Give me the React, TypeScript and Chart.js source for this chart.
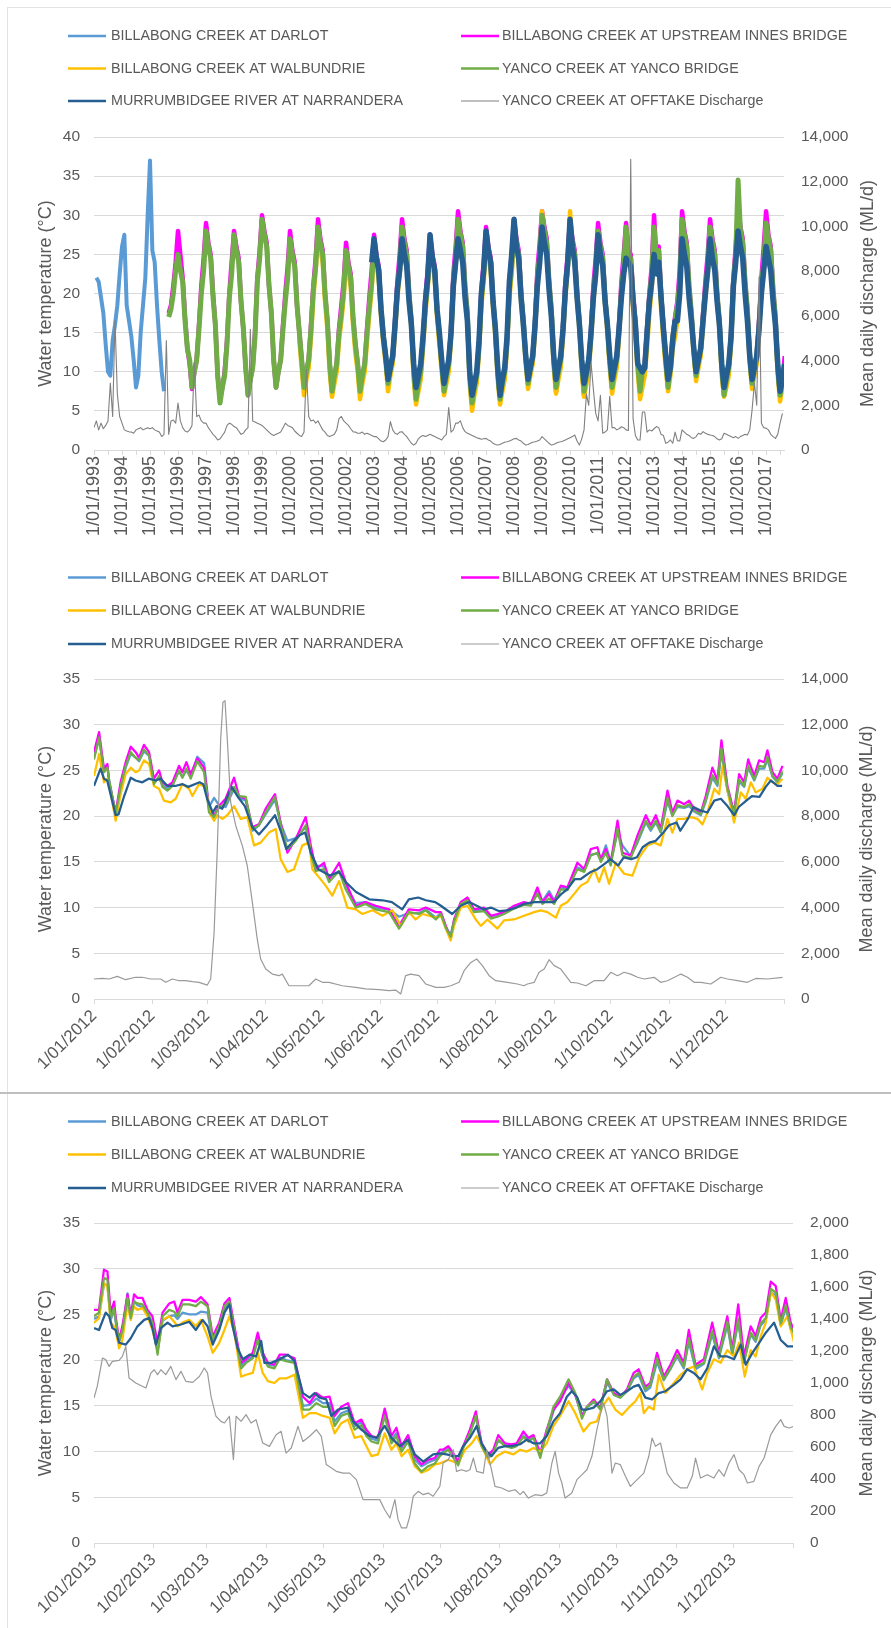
import React, { useEffect, useRef } from "react";
import { Chart, registerables } from "chart.js";
Chart.register(...registerables);

const FONT = "'Liberation Sans', Arial, Helvetica, sans-serif";
const TEXT = "#595959";
const GRID = "#d9d9d9";

// ---------------- legend / series names ----------------
const seriesNames = [
  "BILLABONG CREEK AT DARLOT",
  "BILLABONG CREEK AT UPSTREAM INNES BRIDGE",
  "BILLABONG CREEK AT WALBUNDRIE",
  "YANCO CREEK AT YANCO BRIDGE",
  "MURRUMBIDGEE RIVER AT NARRANDERA",
  "YANCO CREEK AT OFFTAKE Discharge",
];
const leftTitle = "Water temperature (°C)";
const rightTitle = "Mean daily discharge (ML/d)";

// ---------------- chart 1: 1993-2017, monthly readings (month index from Jan 1993) ----------------
const topFirstYear = 1993;
const topLastYear = 2017;
const darlotTopStart = 1; // Feb 1993
const darlotTop = [22, 21.5, 19.5, 17.5, 13.5, 10, 9.5, 14, 16, 18.5, 22.5,
  26, 27.5, 18.5, 16.5, 14.5, 11.5, 8, 9.5, 15, 18.5, 22, 30,
  37, 25.5, 24, 18.5, 14, 10, 7.5];
const innesTopStart = 32; // Sep 1995
const innesTop = [17.5, 18.5, 21, 24,
  28, 25, 22, 17, 13, 11, 7.8, 10, 11.5, 16, 21, 24.5,
  29, 26.5, 25, 20, 16, 9.5, 6.5, 8, 10, 14, 20, 24,
  28, 26, 24.5, 19, 15.5, 10.5, 7, 9, 10.5, 15, 22, 25.5,
  30, 28, 26.5, 21, 17.5, 11.5, 8, 10, 11.5, 16, 20, 23.5,
  28, 25.5, 24, 18.5, 15, 11.5, 7.8, 10, 11.5, 16, 21, 24.5,
  29.5, 27, 25.5, 20, 16.5, 11, 7.5, 9.5, 11, 15.5, 18.5, 21.5,
  26.5, 24, 22.5, 17, 13.5, 11, 7.5, 9.5, 11, 15.5, 19.5, 23,
  27.5, 25, 23.5, 18, 14.5, 12, 8.5, 10.5, 12, 16.5, 21.5, 25,
  29.5, 27, 25.5, 20, 16.5, 10, 6.5, 8.5, 10, 14.5, 19.5, 23,
  27.5, 25, 23.5, 18, 14.5, 11, 7.5, 9.5, 11, 15.5, 22.5, 26,
  30.5, 28, 26.5, 21, 17.5, 9.5, 6, 8, 9.5, 14, 20.5, 24,
  28.5, 26, 24.5, 19, 15.5, 10, 6.5, 8.5, 10, 14.5, 21.5, 25,
  29.5, 27, 25.5, 20, 16.5, 12, 8.5, 10.5, 12, 16.5, 23, 26.5,
  30.5, 28.5, 27, 21.5, 18, 11.5, 7.5, 9.5, 11.5, 16, 21.5, 25,
  29.5, 27, 25.5, 20, 16.5, 11, 7, 9.5, 11, 15.5, 21, 24.5,
  29, 26.5, 25, 19.5, 16, 11.5, 8, 10, 11.5, 16, 21.5, 25,
  29, 25.5, 25, 20, 16.5, 11, 7.5, 10, 11, 15.5, 20, 23.5,
  30, 24.5, 26, 20, 16, 12, 8, 10.5, 14.5, 17, 19, 23,
  30.5, 28, 26.5, 21, 17.5, 13, 9.5, 11.5, 13, 17.5, 21.5, 25,
  29.5, 27, 25.5, 20, 16.5, 10.5, 7, 9, 10.5, 15, 22, 26,
  31, 28.5, 27, 21.5, 18, 12, 8.5, 10.5, 12, 16.5, 22, 26,
  30.5, 27.5, 26, 20.5, 17, 10.5, 6.8, 9, 12];
const yancoTopStart = 32; // Sep 1995
const yancoTop = [17, 18, 20, 23,
  25, 23, 21.5, 16.5, 13, 11.5, 8, 10, 11.5, 15.5, 20, 23,
  28, 26, 24.5, 19.5, 16, 9.5, 6, 8, 9.5, 13.5, 19.5, 22.5,
  27.5, 25.5, 24, 19, 15.5, 10.5, 7, 9, 10.5, 14.5, 21.5, 24.5,
  29.5, 27.5, 26, 21, 17.5, 11.5, 8, 10, 11.5, 15.5, 19, 22,
  27, 25, 23.5, 18.5, 15, 11.5, 8, 10, 11.5, 15.5, 20.5, 23.5,
  28.5, 26.5, 25, 20, 16.5, 11, 7.5, 9.5, 11, 15, 17.5, 20.5,
  25.5, 23.5, 22, 17, 13.5, 11, 7.5, 9.5, 11, 15, 18.5, 21.5,
  26.5, 24.5, 23, 18, 14.5, 12, 8.5, 10.5, 12, 16, 20.5, 23.5,
  28.5, 26.5, 25, 20, 16.5, 10, 6.5, 8.5, 10, 14, 18.5, 21.5,
  26.5, 24.5, 23, 18, 14.5, 11, 7.5, 9.5, 11, 15, 21.5, 24.5,
  29.5, 27.5, 26, 21, 17.5, 9.5, 6, 8, 9.5, 13.5, 19.5, 22.5,
  27.5, 25.5, 24, 19, 15.5, 10, 6.5, 8.5, 10, 14, 20.5, 23.5,
  28.5, 26.5, 25, 20, 16.5, 12, 8.5, 10.5, 12, 16, 22, 25,
  30, 28, 26.5, 21.5, 18, 11.5, 8, 10, 11.5, 15.5, 20.5, 23.5,
  28.5, 26.5, 25, 20, 16.5, 11, 7.5, 9.5, 11, 15, 20, 23,
  28, 26, 24.5, 19.5, 16, 11.5, 8, 10, 11.5, 15.5, 20.5, 23.5,
  28.5, 25, 24.5, 19.5, 16, 11, 7.5, 10, 10.5, 15, 19.5, 22.5,
  28.5, 24, 25.5, 19.5, 15.5, 11.5, 8, 10.5, 14.5, 16.5, 18.5, 21.5,
  29.5, 27.5, 26, 21, 17.5, 13, 9.5, 11.5, 13, 17, 20.5, 23.5,
  28.5, 26.5, 25, 20, 16.5, 10.5, 7, 9, 10.5, 14.5, 21.5, 25,
  34.5, 28, 26.5, 21.5, 18, 12, 8.5, 10.5, 12, 16, 21, 24,
  29, 27, 25.5, 20.5, 17, 10.5, 7, 9, 11];
const walbTopStart = 88; // May 2000
const walbTop = [14, 10.5, 7, 9, 10.5, 14.5, 19.5, 23,
  27.5, 25.5, 24, 19, 15.5, 10, 6.8, 8.5, 10, 14, 16.5, 19.5,
  24.5, 22.5, 21, 16, 12.5, 10, 6.5, 8.5, 10, 14, 17.5, 20.5,
  25.5, 23.5, 22, 17, 13.5, 11, 7.5, 9.5, 11, 15, 19.5, 22.5,
  27.5, 25.5, 24, 19, 15.5, 9, 5.8, 7.5, 9, 13, 17.5, 20.5,
  25.5, 23.5, 22, 17, 13.5, 10, 7, 8.5, 10, 14, 20.5, 23.5,
  28.5, 26.5, 25, 20, 16.5, 8.5, 5, 7, 8.5, 12.5, 18.5, 21.5,
  26.5, 24.5, 23, 18, 14.5, 9, 5.8, 7.5, 9, 13, 19.5, 22.5,
  27.5, 25.5, 24, 19, 15.5, 11, 7.8, 9.5, 11, 15, 21, 24.5,
  30.5, 27, 25.5, 20.5, 17, 10.5, 7.2, 9, 10.5, 14.5, 19.5, 23,
  30.5, 25.5, 24, 19, 15.5, 10, 6.8, 8.5, 10, 14, 19, 22,
  27, 25, 23.5, 18.5, 15, 10.5, 7.2, 9, 10.5, 14.5, 19.5, 22.5,
  26.5, 24, 23.5, 18, 14.5, 10, 6.5, 8, 9.5, 13, 17.5, 20.5,
  28, 23.5, 24, 18, 14, 10.5, 7.5, 9.5, 13, 14.5, 16.5, 20,
  28.5, 26.5, 25, 20, 16.5, 12, 8.8, 10.5, 12, 16, 19.5, 22.5,
  27.5, 25.5, 24, 19, 15.5, 9.5, 6.8, 8, 9.5, 13.5, 20.5, 24,
  29.5, 27, 25.5, 20.5, 17, 11, 7.8, 9.5, 11, 15, 20, 23,
  28, 26, 24.5, 19.5, 16, 9.5, 6.2, 8, 10.5];
const murrTopStart = 119; // Dec 2002
const murrTop = [24,
  27, 24.5, 23, 18, 14.5, 12, 9, 10.5, 12, 16, 20.5, 23,
  27, 25, 23.5, 19, 16, 11, 8, 9.5, 11, 14.5, 19, 22,
  27.5, 24.5, 23, 18, 15, 11.5, 8.5, 10, 11.5, 15, 21, 24,
  27, 25.5, 24, 19.5, 16.5, 10, 7, 8.5, 10, 14, 20, 23,
  28, 25.5, 24, 19, 15.5, 10.5, 7, 9, 10.5, 14.5, 21.5, 25,
  29.5, 26, 24.5, 19.5, 16, 12, 9, 10.5, 12, 16, 21, 24,
  28.5, 26.5, 25, 20.5, 17, 12, 9, 10.5, 12, 15.5, 20.5, 24,
  29.5, 26, 24, 19.5, 16, 11.5, 8.5, 10, 11.5, 15, 19.5, 22.5,
  27.5, 25, 23.5, 19, 16, 12, 9, 10.5, 12, 15.5, 19.5, 22.5,
  24.5, 24, 23.5, 19, 16, 11, 10.5, 10, 10.5, 15, 19, 21.5,
  25, 22.5, 24, 19.5, 15.5, 12, 9, 10.5, 14, 16.5, 16.5, 20,
  27, 25, 23.5, 19.5, 16.5, 13, 10, 11.5, 13, 16.5, 20, 23,
  27, 24.5, 23, 19, 16, 11, 8, 9.5, 11, 14.5, 21, 24,
  28, 26, 24.5, 20, 16.5, 12, 9, 10.5, 12, 15.5, 20, 23,
  26, 24.5, 23, 19, 16, 11, 7.5, 9, 11];
const flowTopStart = 0; // Jan 1993
const flowTop = [1000, 1300, 900, 1200, 950, 1100, 1300, 3000, 1500, 5800, 2500, 1500,
  1200, 900, 850, 820, 800, 750, 900, 950, 1000, 900, 950, 1000,
  950, 1000, 900, 850, 800, 600, 700, 4900, 700, 1300, 1340, 1200,
  2100, 1300, 1000, 850, 800, 900, 1100, 3900, 1500, 1560, 1300, 1200,
  1200, 1000, 850, 700, 600, 450, 500, 650, 800, 1100, 1200, 1150,
  1050, 1000, 850, 700, 750, 900, 1000, 5400, 1300, 1250, 1200, 1150,
  1100, 1000, 900, 800, 700, 650, 700, 750, 800, 1000, 1200, 1100,
  1050, 1000, 850, 750, 650, 600, 800, 3600, 1500, 1300, 1340, 1200,
  1300, 1100, 900, 800, 650, 600, 650, 700, 900, 1400, 1500, 1300,
  1200, 1100, 950, 820, 800, 750, 750, 800, 700, 750, 700, 650,
  600, 600, 500, 400, 370, 450, 600, 1270, 900, 750, 700, 800,
  820, 700, 600, 450, 300, 220, 300, 500, 600, 650, 600, 650,
  700, 650, 600, 550, 500, 450, 600, 700, 1900, 800, 900, 1200,
  1200, 1300, 1000, 820, 750, 700, 650, 600, 550, 520, 480, 500,
  520, 450, 400, 300, 250, 220, 250, 300, 350, 370, 400, 450,
  500, 520, 450, 400, 300, 220, 250, 300, 350, 370, 400, 450,
  600, 500, 400, 300, 220, 250, 300, 350, 370, 400, 450, 500,
  550, 600, 670, 400, 220, 500, 900, 2500, 2000, 3900, 2700, 1640,
  1300, 2450, 750, 800, 900, 2400, 1000, 1000, 900, 950, 1040, 1000,
  900, 870, 13000, 1400, 650, 450, 450, 1700, 1700, 800, 900, 850,
  950, 1050, 1000, 700, 650, 300, 350, 450, 300, 800, 420, 400,
  900, 800, 700, 650, 550, 520, 600, 750, 700, 820, 750, 700,
  670, 650, 600, 500, 450, 500, 750, 700, 650, 600, 550, 600,
  520, 600, 650, 700, 670, 900, 1790, 3000, 2000, 7750, 1200, 1000,
  970, 900, 700, 600, 520, 700, 1200, 1640];

// ---------------- chart 2: 2012 (day of year) ----------------
const monthStarts2012 = [0, 31, 60, 91, 121, 152, 182, 213, 244, 274, 305, 335, 366];
const monthLabels2012 = ["1/01/2012", "1/02/2012", "1/03/2012", "1/04/2012", "1/05/2012", "1/06/2012",
  "1/07/2012", "1/08/2012", "1/09/2012", "1/10/2012", "1/11/2012", "1/12/2012"];
const days2012 = [0, 2.7, 5.3, 7.1, 8, 11.5, 14.1, 16.8, 19.5, 22.1, 23.9, 26.5, 29.2, 31.8, 34.5, 36.3, 38.9, 41.6, 45.1, 46.9,
  49, 51.3, 54.8, 58.4, 61, 63.7, 66.3, 69.8, 74.3, 76.9, 80.5, 84, 87.5, 91, 96, 99, 102.6, 107, 112.3, 115,
  117.6, 122, 124.7, 130, 133.5, 138.8, 144, 149.4, 156.5, 161.8, 167, 172.4, 176, 181.3,
  184, 186.6, 189.2, 191, 194.5, 198.1, 201.6, 206.9, 210.5, 214, 217.5, 222.8, 228.1, 231.7, 235.2, 237.9, 241.4, 244.1, 247.6, 251.1,
  256.4, 260, 263.5, 267, 268.8, 271.5, 274.1, 277.7, 280.3, 284.7, 288.3, 292.7, 295.3, 298, 300.6, 304.2, 306.8, 309.5, 313, 315.7,
  318.3, 321.9, 324.5, 328, 330.7, 332.8, 336, 339.5, 342.2, 344.9, 347, 350.2, 352.8, 355.5, 357.2, 359.9, 362.5, 365.2];
const darlot2012 = [26.5, 28.4, 25.0, 25.5, 24.0, 20.3, 23.0, 25.3, 26.8, 26.4, 26.0, 27.1, 26.6, 23.8, 24.2, 23.4, 23.0, 23.5, 24.9, 24.3,
  25.0, 24.3, 26.5, 25.8, 21.0, 22.0, 21.2, 21.0, 23.0, 22.0, 21.7, 18.4, 19.0, 20.2, 21.8, 19.2, 17.3, 17.6, 18.8, 16.4,
  14.6, 14.5, 13.2, 14.0, 12.4, 10.5, 10.6, 10.0, 9.8, 9.0, 9.4, 9.4, 9.8, 8.9,
  9.4, 7.9, 7.0, 8.6, 10.3, 10.6, 9.7, 9.8, 9.0, 9.2, 9.5, 10.1, 10.4, 10.5, 11.8, 10.7, 11.8, 10.8, 12.2, 12.0,
  14.4, 14.0, 15.8, 15.9, 15.2, 16.8, 15.0, 18.2, 16.8, 15.6, 17.1, 19.3, 18.4, 19.3, 18.2, 21.6, 20.1, 21.0, 20.9, 21.1,
  20.5, 20.1, 21.6, 24.2, 23.3, 27.0, 22.8, 20.3, 23.8, 23.2, 25.3, 23.9, 25.2, 25.2, 26.2, 24.3, 23.7, 24.7];
const innes2012 = [27.0, 29.2, 25.2, 25.7, 23.7, 20.4, 23.7, 25.9, 27.6, 27.0, 26.4, 27.8, 27.0, 24.1, 25.0, 23.7, 23.3, 23.7, 25.5, 24.8,
  25.9, 24.6, 26.3, 25.3, 20.8, 20.1, 21.1, 21.9, 24.2, 22.2, 21.9, 18.8, 19.1, 20.8, 22.4, 19.3, 16.0, 17.5, 19.9, 16.8,
  14.2, 14.9, 13.1, 14.9, 12.8, 10.2, 10.6, 10.2, 9.8, 8.0, 9.8, 9.7, 10.0, 9.5,
  9.5, 8.0, 6.6, 8.7, 10.6, 11.1, 9.8, 10.0, 9.1, 9.3, 9.5, 10.2, 10.6, 10.4, 12.2, 10.6, 11.5, 10.6, 12.4, 12.2,
  14.9, 14.2, 16.4, 16.6, 15.3, 16.4, 14.9, 19.5, 16.0, 15.7, 17.9, 20.1, 19.0, 20.1, 18.6, 22.8, 20.4, 21.7, 21.3, 21.7,
  20.8, 20.4, 22.2, 25.3, 23.9, 28.3, 23.3, 20.4, 24.6, 23.7, 26.2, 24.4, 26.1, 25.9, 27.2, 24.8, 24.1, 25.5];
const yanco2012 = [26.2, 28.6, 24.8, 25.3, 23.9, 20.2, 23.2, 25.5, 27.0, 26.4, 26.1, 27.3, 26.6, 23.5, 24.4, 23.2, 22.8, 23.3, 25.0, 24.2,
  25.2, 24.1, 26.0, 24.8, 20.4, 19.9, 21.0, 21.3, 23.2, 22.2, 22.1, 18.6, 19.0, 20.4, 22.1, 19.0, 16.4, 17.3, 19.0, 15.9,
  14.0, 14.2, 12.8, 14.0, 12.0, 10.0, 10.4, 9.8, 9.5, 7.7, 9.5, 9.3, 9.7, 8.7,
  9.3, 7.8, 6.8, 8.5, 10.4, 10.8, 9.5, 9.6, 8.8, 9.0, 9.3, 9.9, 10.3, 10.2, 11.5, 10.4, 11.0, 10.4, 12.0, 11.9,
  14.2, 13.9, 15.7, 16.0, 15.0, 16.0, 14.6, 18.6, 15.7, 15.4, 17.3, 19.5, 18.6, 19.5, 18.3, 22.0, 20.0, 21.2, 21.0, 21.3,
  20.6, 20.2, 21.8, 24.5, 23.5, 27.4, 23.0, 20.2, 24.0, 23.3, 25.5, 24.0, 25.5, 25.4, 26.5, 24.4, 23.8, 24.9];
const walbDays2012 = [0, 2.7, 5.3, 7.1, 8, 11.5, 14.1, 16.8, 19.5, 22.1, 23.9, 26.5, 29.2, 31.8, 34.5, 37.1, 40.7, 43.3, 46.9, 50.4,
  52.2, 55.7, 59.2, 61.9, 63.7, 65.4, 68.1, 70.7, 74.3, 77.8, 81.3, 84.9, 88.4, 92.8, 96.4, 99, 102.6, 106.1, 110.5, 114.1,
  115.8, 119.4, 122.9, 126.4, 130, 134.4, 138.8, 142.4, 147.7, 153, 158.3, 162.7, 167.1, 170.6, 174.2, 181.3,
  184, 186.6, 189.2, 191, 194.5, 198.1, 202.5, 205.2, 208.7, 214, 217.5, 222.8, 228.1, 233.5, 237, 240.5, 245, 247.6, 251.1, 254.7,
  258.2, 261.7, 265.3, 267.9, 270.6, 273.2, 276.8, 281.2, 285.6, 289.2, 293.6, 297.1, 300.6, 304.2, 306.8, 309.5, 313, 316.6, 320.1, 322.8,
  325.4, 329, 331.6, 333.4, 336.9, 339.5, 343.1, 345.7, 348.4, 351, 354.6, 357.2, 359.9, 362.5, 365.2];
const walb2012 = [24.4, 26.8, 23.7, 24.1, 23.5, 19.5, 22.4, 24.6, 25.3, 24.8, 25.0, 26.1, 25.7, 23.3, 23.0, 21.7, 21.5, 21.9, 23.5, 23.0,
  22.2, 23.5, 23.2, 20.1, 19.5, 20.1, 19.7, 20.1, 21.1, 19.7, 19.9, 16.8, 17.1, 18.2, 18.6, 15.3, 13.9, 14.2, 16.8, 17.1,
  14.2, 13.3, 12.4, 11.3, 12.9, 10.0, 9.8, 9.3, 9.7, 9.1, 9.7, 8.0, 9.5, 8.7, 9.3, 8.9,
  9.1, 7.7, 6.4, 8.0, 10.0, 10.2, 8.7, 8.0, 8.7, 7.7, 8.6, 8.7, 9.1, 9.5, 9.7, 9.5, 8.9, 10.2, 10.6, 11.5,
  12.4, 12.8, 14.2, 12.8, 14.4, 12.6, 14.9, 13.7, 13.5, 15.5, 16.8, 17.1, 16.8, 19.7, 18.2, 19.7, 19.7, 19.9, 19.7, 19.1,
  20.4, 23.0, 22.4, 25.5, 21.9, 19.3, 22.6, 21.9, 23.7, 22.6, 23.0, 24.2, 23.7, 23.5, 24.1];
const murrDays2012 = [0, 3.5, 5.3, 7, 11.5, 13, 16, 19.5, 22, 25.6, 29, 32.7, 35.4, 39, 43, 47, 50, 56, 58, 60,
  63, 65, 68, 73, 76, 80, 84, 87.5, 91, 96, 99, 102, 105, 109, 112, 115, 119, 125, 130, 133.5,
  139, 146, 153, 158, 163.5, 167, 172, 176, 181, 184, 190, 194.5, 199, 203, 207, 210.5, 215, 219, 224, 228,
  233.5, 239, 244, 248, 251, 255, 258, 263.5, 267, 271, 274, 278, 281, 285, 288, 291, 294.5, 298, 302, 305,
  309, 311, 315, 318, 322, 325.4, 329, 332.5, 336, 339.6, 342, 346, 349, 353, 356.3, 359, 362.5, 365];
const murr2012 = [23.3, 25.2, 24.1, 23.9, 20.1, 20.2, 22.2, 24.2, 23.9, 23.7, 24.1, 23.9, 24.1, 23.3, 23.3, 23.5, 23.2, 23.7, 23.5, 21.9,
  20.4, 21.1, 20.8, 23.2, 22.2, 21.1, 18.8, 18.0, 18.8, 20.1, 18.4, 16.4, 17.1, 17.9, 18.2, 16.0, 14.2, 13.5, 13.9, 12.8,
  11.7, 10.9, 10.8, 10.6, 9.8, 10.9, 11.1, 10.8, 10.6, 10.2, 9.3, 10.2, 10.6, 10.2, 9.8, 10.0, 9.6, 9.7, 10.0, 10.4,
  10.6, 10.6, 10.6, 11.5, 12.0, 13.1, 13.1, 13.9, 14.2, 14.8, 15.3, 14.6, 15.5, 15.3, 15.5, 16.6, 17.1, 17.3, 18.2, 19.0,
  19.3, 18.4, 19.7, 21.0, 20.6, 20.4, 21.7, 21.9, 21.1, 20.1, 21.0, 21.7, 22.2, 22.1, 23.2, 23.9, 23.3, 23.3];
const flowDays2012 = [0, 4.4, 8, 12.4, 16.8, 22.1, 25.6, 30.1, 35.4, 38, 41.6, 45.1, 48.6, 52.2, 55.7, 60.1, 61.9, 63.7, 65.4, 67.2,
  68.4, 69.5, 70.7, 72.5, 75.2, 78.7, 81.3, 84, 86.6, 88.4, 91.1, 94.6, 98.1, 99.9, 103.4, 107, 114, 117.6, 121.1, 124.7,
  131.7, 138.8, 144.1, 151.2, 156.5, 160, 162.7, 165.3, 168, 172.4, 176, 181.3, 185.7, 189.2, 193.7, 196.3, 199.9, 203, 206, 209.6,
  213.1, 219.3, 224.6, 228.1, 229.9, 233.5, 236.1, 238.8, 241.4, 244.1, 247.6, 252.9, 256.4, 260.9, 265.3, 270.6, 274.1, 277.7, 281.2, 284.7,
  288.3, 291.8, 297.1, 300.6, 304.2, 311.3, 314.8, 318.3, 321.9, 327.2, 332.5, 336, 341.3, 346.6, 351, 357.2, 365.2];
const flow2012 = [875, 900, 875, 990, 845, 950, 950, 875, 875, 730, 875, 800, 800, 760, 730, 610, 875, 2900, 6560, 11370,
  12980, 13050, 11370, 8600, 7580, 6700, 5830, 4230, 2620, 1750, 1310, 1090, 1020, 1090, 580, 580, 580, 875, 730, 730,
  580, 510, 440, 410, 365, 390, 220, 1020, 1090, 1020, 655, 510, 510, 580, 730, 1240, 1600, 1750, 1460, 1020,
  800, 730, 655, 580, 655, 730, 1170, 1310, 1720, 1460, 1310, 730, 700, 580, 800, 800, 1170, 1020, 1170, 1090,
  950, 875, 950, 730, 800, 1090, 950, 730, 730, 655, 950, 875, 800, 730, 900, 875, 950];

// ---------------- chart 3: 2013 (day of year) ----------------
const monthStarts2013 = [0, 31, 59, 90, 120, 151, 181, 212, 243, 273, 304, 334, 365];
const monthLabels2013 = ["1/01/2013", "1/02/2013", "1/03/2013", "1/04/2013", "1/05/2013", "1/06/2013",
  "1/07/2013", "1/08/2013", "1/09/2013", "1/10/2013", "1/11/2013", "1/12/2013"];
const days2013 = [0, 2.6, 5.2, 7, 8.7, 10.5, 11.3, 13.1, 14.8, 17.5, 19.2, 20.9, 22.7, 25.3, 27.9, 30.5, 33.2, 35.8, 39.3, 41.9,
  43.6, 46.2, 49.7, 53.2, 55.8, 59.3, 62, 65.4, 68.1, 70.7, 73.3, 76.8, 79.4, 82.9, 85.5, 88.1, 90.8, 94.2, 96.9, 100.3,
  104.7, 109.1, 112.6, 116.1, 119.5, 123, 125.7, 129.1, 132.6, 136.1, 139.6, 142.2, 144.9, 148.3, 151.8, 155.3, 157.9, 160.6, 164, 167.5,
  171, 174.5, 178, 180.6,
  182.3, 185, 187.6, 190.2, 192.8, 196.3, 199.4, 202.4, 205.9, 208.5, 211.1, 214.6, 218.1, 220.7, 224.2, 226.8, 229.5, 233, 236.4, 239.9,
  243.4, 247.8, 251.3, 254.8, 257.4, 260.9, 264.4, 267.9, 271.4, 274.8, 278.3, 281.8, 284.4, 287.9, 290.5, 294, 297.5, 301, 304.5, 308,
  310.6, 314.1, 318.5, 322.8, 326.3, 330.7, 333.3, 336.4, 339.4, 342.9, 345.5, 348.1, 350.8, 353.4, 356, 358.6, 361.2, 363.8, 365.6];
const darlot2013 = [24.5, 24.8, 28.3, 28.2, 24.4, 25.5, 24.2, 22.0, 23.0, 27.3, 24.8, 26.5, 26.0, 25.8, 25.0, 23.8, 21.0, 24.3, 24.8, 24.9,
  24.5, 25.2, 25.0, 25.0, 25.3, 25.2, 22.0, 23.5, 25.6, 26.1, 23.5, 19.4, 19.9, 20.4, 22.4, 20.5, 19.5, 19.4, 20.3, 20.0,
  19.8, 15.0, 15.1, 15.8, 15.3, 15.3, 13.3, 14.2, 14.5, 12.8, 13.2, 12.0, 11.4, 11.2, 14.1, 11.3, 12.0, 10.4, 11.3, 9.1,
  8.4, 8.8, 9.1, 9.7,
  10.0, 10.3, 9.6, 8.8, 10.5, 12.0, 13.8, 10.8, 9.6, 10.0, 11.2, 10.7, 10.6, 10.8, 11.7, 11.3, 11.6, 9.8, 12.0, 14.4,
  15.8, 17.2, 16.2, 14.0, 14.8, 15.4, 14.8, 17.5, 16.3, 15.9, 16.6, 18.0, 18.4, 16.6, 17.0, 19.8, 17.8, 19.0, 20.4, 19.1,
  22.0, 19.0, 19.6, 22.8, 20.2, 23.8, 20.6, 24.2, 19.9, 22.8, 22.0, 23.8, 24.4, 27.4, 27.1, 23.8, 25.7, 23.4, 22.8];
const innes2013 = [25.5, 25.5, 29.9, 29.7, 25.2, 26.4, 24.8, 22.2, 23.7, 27.2, 24.8, 27.2, 26.8, 26.8, 25.5, 24.8, 21.9, 25.2, 26.2, 26.4,
  25.2, 26.6, 26.6, 26.4, 26.9, 26.1, 22.6, 24.1, 26.2, 26.8, 23.7, 19.7, 20.1, 20.8, 23.0, 20.8, 19.7, 19.5, 20.6, 20.6,
  20.2, 16.0, 15.3, 16.4, 15.9, 16.0, 13.9, 14.9, 15.3, 13.1, 13.5, 12.4, 11.7, 11.5, 14.7, 11.7, 12.6, 10.6, 11.8, 9.5,
  8.6, 9.1, 9.3, 10.2,
  10.2, 10.6, 9.8, 8.9, 10.6, 12.4, 14.4, 10.9, 9.7, 10.2, 11.8, 10.9, 10.8, 10.9, 12.2, 11.5, 11.8, 9.8, 12.4, 14.6,
  15.5, 17.5, 16.2, 13.9, 14.9, 15.7, 14.8, 17.9, 16.4, 16.0, 16.8, 18.6, 19.0, 17.1, 17.5, 20.8, 18.2, 19.5, 21.1, 19.7,
  23.3, 19.5, 20.1, 24.1, 20.8, 24.8, 21.1, 26.1, 20.4, 23.7, 22.6, 24.6, 25.2, 28.6, 28.1, 24.4, 26.8, 24.1, 23.3];
const yanco2013 = [24.8, 25.2, 29.0, 28.8, 24.6, 25.7, 24.4, 22.1, 23.2, 26.8, 24.6, 26.4, 26.2, 26.1, 25.2, 24.1, 20.6, 24.8, 25.5, 25.3,
  24.8, 26.1, 26.1, 25.9, 26.4, 25.9, 22.2, 23.7, 25.9, 26.4, 23.3, 19.1, 19.7, 20.2, 22.2, 20.4, 19.3, 19.1, 20.1, 19.9,
  19.7, 14.6, 14.6, 15.3, 14.9, 14.9, 12.8, 13.9, 14.2, 12.4, 12.9, 11.7, 11.1, 10.9, 13.9, 10.9, 11.7, 10.0, 11.1, 8.7,
  7.8, 8.4, 8.7, 9.5,
  9.8, 10.2, 9.3, 8.5, 10.4, 12.0, 13.9, 10.6, 9.3, 9.8, 11.3, 10.6, 10.4, 10.6, 11.6, 11.1, 11.5, 9.3, 12.2, 14.9,
  16.0, 17.9, 16.4, 13.6, 14.9, 15.5, 14.6, 17.9, 16.2, 15.9, 16.6, 18.2, 18.6, 16.8, 17.3, 20.2, 17.9, 19.1, 20.6, 19.3,
  22.4, 19.3, 19.7, 23.2, 20.4, 24.2, 20.8, 24.5, 19.7, 23.0, 22.2, 24.0, 24.6, 27.8, 27.4, 24.0, 26.0, 23.6, 23.0];
const walbDays2013 = [0, 2.6, 5.2, 7, 8.7, 10.5, 11.3, 13.1, 14.8, 17.5, 19.2, 20.9, 22.7, 25.3, 27.9, 30.5, 33.2, 35.8, 39.3, 41.9,
  43.6, 46.2, 49.7, 53.2, 55.8, 59.3, 62, 65.4, 68.1, 70.7, 73.3, 76.8, 79.4, 82.9, 85.5, 88.1, 90.8, 94.2, 96.9, 100.3,
  104.7, 109.1, 112.6, 116.1, 119.5, 123, 125.7, 129.1, 132.6, 136.1, 139.6, 142.2, 144.9, 148.3, 151.8, 155.3, 157.9, 160.6, 164, 167.5,
  171, 174.5, 178, 180.6,
  185, 190.2, 193.7, 197.2, 199.8, 203.3, 206.8, 210.3, 214.6, 219, 222.5, 226, 229.5, 233, 236.4, 239.9, 243.4, 247.8, 251.3, 255.6,
  259.1, 262.6, 265.2, 268.7, 272.2, 275.7, 279.2, 282.7, 285.3, 287.1, 289.7, 292.3, 294.9, 298.4, 302.8, 306.3, 309.7, 313.2, 317.6, 320.2,
  323.7, 327.2, 330.7, 334.2, 336.8, 339.8, 342.9, 345.5, 348.1, 350.8, 353.4, 356, 358.6, 362.1, 365.6];
const walb2013 = [24.1, 24.6, 28.4, 28.1, 24.1, 23.7, 23.3, 21.3, 22.2, 26.1, 24.4, 25.9, 25.5, 25.7, 24.8, 23.3, 21.1, 24.4, 24.8, 24.2,
  23.7, 24.1, 24.4, 23.7, 24.4, 22.6, 20.8, 21.9, 23.3, 24.8, 23.0, 18.2, 18.4, 18.6, 20.8, 18.6, 17.7, 17.5, 18.0, 18.0,
  18.4, 13.7, 14.2, 14.2, 13.9, 13.7, 12.0, 13.1, 13.5, 11.5, 11.7, 10.6, 9.5, 9.7, 12.0, 10.2, 10.9, 9.5, 10.2, 8.4,
  7.7, 8.0, 8.6, 8.7,
  9.1, 8.7, 10.2, 10.9, 11.7, 10.2, 8.6, 9.5, 10.0, 9.7, 10.2, 10.0, 10.4, 10.0, 10.9, 12.8, 13.9, 15.5, 14.2, 12.2,
  13.1, 13.3, 14.8, 15.9, 14.6, 14.0, 14.8, 15.5, 16.4, 14.2, 14.9, 14.6, 18.4, 16.4, 17.5, 18.4, 19.0, 19.3, 16.8, 18.6,
  20.1, 19.7, 21.1, 20.4, 21.9, 18.2, 21.1, 20.4, 22.6, 24.1, 27.5, 26.6, 23.7, 24.8, 21.9];
const murrDays2013 = [0, 2.6, 6.1, 7.9, 9.6, 11.3, 13.1, 16.6, 19.2, 22.7, 26.2, 28.8, 30.5, 32.3, 34.9, 38.4, 41, 45.4, 49.7, 53.2,
  56.7, 59.3, 62, 65.4, 68.1, 70.7, 72.4, 75, 77.7, 81.2, 84.6, 87.3, 89, 92.5, 96.9, 101.2, 104.7, 109.1, 112.6, 115.2,
  117.8, 121.3, 123.9, 127.4, 132.6, 135.3, 139.6, 144, 147.5, 151.8, 155.3, 159.7, 164, 167.5, 171.9, 177.1, 180.6,
  184.1, 187.6, 190.2, 192.8, 196.3, 199.8, 202.4, 205, 207.6, 211.1, 214.6, 218.1, 222.5, 226, 229.5, 233, 236.4, 239.9, 243.4, 246.9,
  249.5, 252.2, 254.8, 257.4, 260.9, 264.4, 267.9, 271.4, 274.8, 278.3, 281.8, 284.4, 287.9, 291.4, 294.9, 298.4, 302.8, 306.3, 309.7, 313.2,
  316.7, 320.2, 323.7, 327.2, 330.7, 334.2, 337.7, 340.3, 343.8, 347.3, 350.8, 355.1, 358.6, 362.1, 365];
const murr2013 = [23.5, 23.3, 25.2, 24.8, 23.5, 23.3, 21.9, 21.7, 22.4, 23.7, 24.4, 24.6, 23.5, 21.7, 23.5, 24.1, 23.7, 23.9, 24.2, 23.3,
  24.4, 23.7, 21.7, 23.3, 25.2, 26.1, 23.7, 21.3, 20.1, 20.6, 20.4, 22.1, 19.7, 19.7, 20.1, 20.6, 19.9, 16.4, 15.9, 16.4,
  15.9, 15.7, 13.9, 14.6, 14.8, 13.3, 12.4, 11.7, 11.5, 12.8, 11.5, 10.6, 11.3, 9.7, 8.9, 9.7, 9.8,
  9.7, 9.5, 9.5, 10.6, 11.5, 12.8, 10.9, 10.0, 9.5, 10.4, 10.6, 10.6, 10.8, 11.3, 10.9, 10.9, 11.7, 13.3, 14.2, 16.0,
  16.6, 16.0, 14.6, 14.6, 14.8, 15.5, 16.6, 16.8, 16.2, 16.6, 17.1, 17.3, 15.9, 15.7, 16.4, 16.6, 17.3, 17.9, 19.0, 18.6,
  17.9, 19.1, 21.5, 20.4, 20.4, 20.1, 21.7, 19.5, 20.8, 21.9, 23.0, 24.1, 22.2, 21.5, 21.5];
const flowDays2013 = [0, 1.7, 4.4, 6.1, 7.9, 9.6, 13.1, 14.8, 16.6, 18.3, 21.8, 27.1, 29.7, 31.4, 33.2, 34.9, 37.5, 40.1, 42.8, 45.4,
  48, 51.5, 55, 57.6, 59.3, 61.1, 63.7, 66.3, 68.1, 70.7, 72.8, 74.2, 76.8, 79.4, 82, 84.6, 88.1, 91.6, 95.1, 97.7,
  100.3, 103, 106.5, 109.1, 112.6, 116.1, 118.7, 121.3, 126.5, 130, 133.5, 137, 140.5, 144, 149.2, 151.8, 154.5, 157.1, 158.8, 160.6,
  163.2, 164.9, 166.7, 169.3, 171.9, 174.5, 177.1, 180.6,
  182.3, 185, 187.6, 189.3, 191.9, 194.6, 196.3, 198.1, 199.8, 203.3, 205, 206.8, 209.4, 212.9, 216.4, 219.9, 222.5, 224.2, 226.8, 230.3,
  233.8, 236.4, 239.1, 240.8, 242.6, 244.3, 246, 249.5, 252.2, 254.8, 257.4, 260, 262.6, 264.4, 266.1, 267.9, 270.5, 272.2, 274.8, 277.5,
  280.1, 283.6, 287.1, 289.7, 291.4, 293.2, 295.8, 299.3, 302.8, 306.3, 309.7, 312.4, 314.1, 316.7, 320.2, 323.7, 326.3, 329, 331.6, 334.2,
  336.8, 339.4, 341.2, 344.6, 347.3, 349.9, 353.4, 356, 358.6, 360.4, 363, 365.6];
const flow2013 = [906, 979, 1156, 1146, 1104, 1135, 1141, 1166, 1229, 1031, 1000, 969, 1062, 1083, 1052, 1083, 1052, 1104, 1021, 1073,
  1010, 1004, 1041, 1094, 1062, 917, 792, 760, 750, 792, 521, 792, 760, 802, 750, 771, 625, 604, 677, 698,
  562, 594, 729, 635, 667, 708, 667, 490, 448, 437, 437, 396, 271, 271, 271, 208, 156, 271, 146, 94,
  94, 167, 292, 323, 302, 312, 292, 354,
  500, 521, 583, 448, 458, 448, 458, 531, 448, 437, 583, 500, 354, 344, 323, 333, 302, 323, 281, 302,
  296, 312, 500, 573, 437, 375, 281, 312, 396, 427, 458, 542, 708, 802, 875, 792, 437, 500, 490, 417,
  354, 396, 437, 542, 656, 604, 625, 437, 375, 344, 344, 417, 531, 406, 427, 406, 458, 417, 500, 552,
  458, 427, 375, 385, 479, 531, 677, 729, 771, 729, 719, 729];

// ---------------- helpers that turn the arrays into library data ----------------
const monthly = (start: number, values: number[]) =>
  values.map((v, i) => ({ x: topFirstYear + (start + i) / 12, y: v }));
const zipXY = (xs: number[], ys: number[]) => xs.map((x, i) => ({ x, y: ys[i] }));

const COLORS = {
  darlot: "#5B9BD5",
  innes: "#FF00FF",
  walb: "#FFC000",
  yanco: "#70AD47",
  murr: "#255E91",
};

function makeDatasets(d: any, w: number[], flowColor: string) {
  const base = { pointRadius: 0, fill: false, tension: 0, borderJoinStyle: "round", spanGaps: false };
  return [
    { ...base, label: seriesNames[0], data: d.darlot, borderColor: COLORS.darlot, borderWidth: w[0], yAxisID: "y", order: 5 },
    { ...base, label: seriesNames[1], data: d.innes, borderColor: COLORS.innes, borderWidth: w[1], yAxisID: "y", order: 4 },
    { ...base, label: seriesNames[2], data: d.walb, borderColor: COLORS.walb, borderWidth: w[2], yAxisID: "y", order: 3 },
    { ...base, label: seriesNames[3], data: d.yanco, borderColor: COLORS.yanco, borderWidth: w[3], yAxisID: "y", order: 2 },
    { ...base, label: seriesNames[4], data: d.murr, borderColor: COLORS.murr, borderWidth: w[4], yAxisID: "y", order: 1 },
    { ...base, label: seriesNames[5], data: d.flow, borderColor: flowColor, borderWidth: w[5], yAxisID: "y1", order: 0 },
  ];
}

// legend (two columns, three rows) and the secondary-axis title, read bottom-to-top as in the sheet
function sheetPlugin(rows: number[], colors: string[], widths: number[], rightTitleX: number) {
  return {
    id: "sheetLegend",
    afterDraw(chart: any) {
      const ctx = chart.ctx;
      ctx.save();
      ctx.font = `14.3px ${FONT}`;
      ctx.textBaseline = "middle";
      seriesNames.forEach((name, i) => {
        const col = i % 2;
        const row = Math.floor(i / 2);
        const x0 = col === 0 ? 68 : 461;
        const y = rows[row];
        ctx.strokeStyle = colors[i];
        ctx.lineWidth = widths[i];
        ctx.beginPath();
        ctx.moveTo(x0, y);
        ctx.lineTo(x0 + 38, y);
        ctx.stroke();
        ctx.fillStyle = TEXT;
        ctx.fillText(name, x0 + (col === 0 ? 43 : 41), y + 0.5);
      });
      ctx.restore();

      const area = chart.chartArea;
      ctx.save();
      ctx.translate(rightTitleX, (area.top + area.bottom) / 2);
      ctx.rotate(-Math.PI / 2);
      ctx.font = `18px ${FONT}`;
      ctx.fillStyle = TEXT;
      ctx.textAlign = "center";
      ctx.textBaseline = "middle";
      ctx.fillText(rightTitle, 0, 0);
      ctx.restore();
    },
  };
}

function makeConfig(p: any) {
  return {
    type: "line",
    data: { datasets: p.datasets },
    options: {
      animation: false,
      responsive: false,
      maintainAspectRatio: false,
      devicePixelRatio: 1,
      events: [],
      layout: { padding: { top: p.areaTop, left: 0, right: 0, bottom: 0 } },
      plugins: { legend: { display: false }, tooltip: { enabled: false } },
      scales: {
        x: {
          type: "linear",
          min: p.xMin,
          max: p.xMax,
          afterBuildTicks: (s: any) => {
            s.ticks = p.xTicks.map((v: number) => ({ value: v }));
          },
          afterFit: (s: any) => {
            s.height = p.xAxisHeight;
          },
          ticks: {
            autoSkip: false,
            minRotation: p.rotation,
            maxRotation: p.rotation,
            padding: p.xPad,
            color: TEXT,
            font: { family: FONT, size: p.xFont },
            callback: (v: number, i: number) => p.xLabel(v, i),
          },
          grid: { drawOnChartArea: false, drawTicks: true, tickLength: 5, color: GRID, lineWidth: 1 },
          border: { display: true, color: GRID, width: 1 },
        },
        y: {
          position: "left",
          min: 0,
          max: p.yMax,
          afterFit: (s: any) => {
            s.width = 94;
          },
          ticks: { stepSize: 5, padding: 14, color: TEXT, font: { family: FONT, size: 15.5 } },
          grid: { color: GRID, lineWidth: 1, drawTicks: false },
          border: { display: false },
          title: {
            display: true,
            text: leftTitle,
            color: TEXT,
            font: { family: FONT, size: 18 },
            padding: { top: 35, bottom: 0 },
          },
        },
        y1: {
          position: "right",
          min: 0,
          max: p.y1Max,
          afterFit: (s: any) => {
            s.width = p.rightWidth;
          },
          ticks: {
            stepSize: p.y1Step,
            padding: 17,
            color: TEXT,
            font: { family: FONT, size: 15.5 },
            callback: (v: number) => Number(v).toLocaleString("en-US"),
          },
          grid: { drawOnChartArea: false, drawTicks: false },
          border: { display: false },
          title: { display: false },
        },
      },
    },
    plugins: [sheetPlugin(p.legendRows, p.legendColors, p.legendWidths, p.rightTitleX)],
  };
}

// tick positions for the long-term chart: every half year, labelled on 1 January
const topTicks: number[] = [];
for (let y = topFirstYear; y <= topLastYear + 0.5; y += 0.5) topTicks.push(y);

function panelConfigs() {
  const flowGrey1 = "#808080";
  const flowGrey2 = "#9a9a9a";
  const c1 = makeConfig({
    areaTop: 137,
    xAxisHeight: 98,
    rightWidth: 107,
    rightTitleX: 868,
    xMin: topFirstYear,
    xMax: 2017.64,
    xTicks: topTicks,
    rotation: 90,
    xPad: 1,
    xFont: 18,
    xLabel: (v: number) => (Number.isInteger(v) ? `1/01/${v}` : ""),
    yMax: 40,
    y1Max: 14000,
    y1Step: 2000,
    legendRows: [36, 68.5, 101],
    legendColors: [COLORS.darlot, COLORS.innes, COLORS.walb, COLORS.yanco, COLORS.murr, flowGrey1],
    legendWidths: [2.5, 2.5, 2.5, 2.5, 2.5, 1.2],
    datasets: makeDatasets(
      {
        darlot: monthly(darlotTopStart, darlotTop),
        innes: monthly(innesTopStart, innesTop),
        walb: monthly(walbTopStart, walbTop),
        yanco: monthly(yancoTopStart, yancoTop),
        murr: monthly(murrTopStart, murrTop),
        flow: monthly(flowTopStart, flowTop),
      },
      [4, 4.5, 4.5, 5, 5.5, 1.1],
      flowGrey1
    ),
  });
  const c2 = makeConfig({
    areaTop: 131,
    xAxisHeight: 93,
    rightWidth: 107,
    rightTitleX: 867,
    xMin: 0,
    xMax: 366,
    xTicks: monthStarts2012,
    rotation: 45,
    xPad: 2,
    xFont: 17,
    xLabel: (_v: number, i: number) => monthLabels2012[i] ?? "",
    yMax: 35,
    y1Max: 14000,
    y1Step: 2000,
    legendRows: [29.5, 62.5, 96],
    legendColors: [COLORS.darlot, COLORS.innes, COLORS.walb, COLORS.yanco, COLORS.murr, flowGrey2],
    legendWidths: [2.5, 2.5, 2.5, 2.5, 2.5, 1.2],
    datasets: makeDatasets(
      {
        darlot: zipXY(days2012, darlot2012),
        innes: zipXY(days2012, innes2012),
        walb: zipXY(walbDays2012, walb2012),
        yanco: zipXY(days2012, yanco2012),
        murr: zipXY(murrDays2012, murr2012),
        flow: zipXY(flowDays2012, flow2012),
      },
      [2.25, 2.25, 2.25, 2.25, 2.25, 1.2],
      flowGrey2
    ),
  });
  const c3 = makeConfig({
    areaTop: 129,
    xAxisHeight: 85,
    rightWidth: 98,
    rightTitleX: 867,
    xMin: 0,
    xMax: 365,
    xTicks: monthStarts2013,
    rotation: 45,
    xPad: 2,
    xFont: 17,
    xLabel: (_v: number, i: number) => monthLabels2013[i] ?? "",
    yMax: 35,
    y1Max: 2000,
    y1Step: 200,
    legendRows: [27.5, 60.5, 94],
    legendColors: [COLORS.darlot, COLORS.innes, COLORS.walb, COLORS.yanco, COLORS.murr, flowGrey2],
    legendWidths: [2.5, 2.5, 2.5, 2.5, 2.5, 1.2],
    datasets: makeDatasets(
      {
        darlot: zipXY(days2013, darlot2013),
        innes: zipXY(days2013, innes2013),
        walb: zipXY(walbDays2013, walb2013),
        yanco: zipXY(days2013, yanco2013),
        murr: zipXY(murrDays2013, murr2013),
        flow: zipXY(flowDays2013, flow2013),
      },
      [2.25, 2.25, 2.25, 2.25, 2.25, 1.2],
      flowGrey2
    ),
  });
  return [c1, c2, c3];
}

function ChartCanvas({ top, height, config }: { top: number; height: number; config: any }) {
  const ref = useRef<HTMLCanvasElement | null>(null);
  useEffect(() => {
    if (!ref.current) return;
    const chart = new Chart(ref.current, config);
    return () => chart.destroy();
  }, [config]);
  return (
    <canvas
      ref={ref}
      width={891}
      height={height}
      style={{ position: "absolute", left: 0, top, width: 891, height, display: "block" }}
    />
  );
}

const configs = panelConfigs();

export default function App() {
  return (
    <div
      style={{
        position: "absolute",
        left: 0,
        top: 0,
        width: 891,
        height: 1628,
        background: "#ffffff",
        overflow: "hidden",
        fontFamily: FONT,
      }}
    >
      <div style={{ position: "absolute", left: 7, top: 7, width: 884, height: 1, background: "#e3e3e3" }} />
      <div style={{ position: "absolute", left: 7, top: 7, width: 1, height: 1621, background: "#e3e3e3" }} />
      <div style={{ position: "absolute", left: 0, top: 1092, width: 891, height: 2, background: "#bfbfbf" }} />
      <ChartCanvas top={0} height={548} config={configs[0]} />
      <ChartCanvas top={548} height={544} config={configs[1]} />
      <ChartCanvas top={1094} height={534} config={configs[2]} />
    </div>
  );
}
